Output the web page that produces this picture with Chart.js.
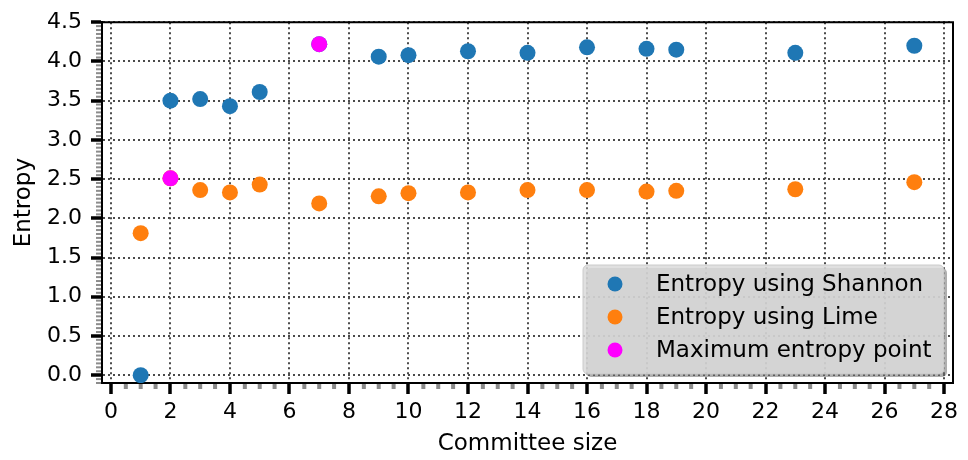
<!DOCTYPE html>
<html>
<head>
<meta charset="utf-8">
<script src="https://cdn.jsdelivr.net/npm/chart.js@4.4.1/dist/chart.umd.min.js"></script>
<style>
  html, body { margin: 0; padding: 0; background: #ffffff; overflow: hidden; }
  #wrap { width: 968px; height: 460px; }
</style>
</head>
<body>
<div id="wrap"><canvas id="c" width="968" height="460"></canvas></div>
<script>
// Committee sizes evaluated
const committeeSizes = [1, 2, 3, 4, 5, 7, 9, 10, 12, 14, 16, 18, 19, 23, 27];
// Entropy of the committee votes (Shannon) and of the LIME explanations
const shannonEntropy = [0.00, 3.50, 3.52, 3.43, 3.61, 4.22, 4.06, 4.08, 4.13, 4.11, 4.18, 4.16, 4.15, 4.11, 4.20];
const limeEntropy = [1.81, 2.51, 2.36, 2.33, 2.43, 2.19, 2.28, 2.32, 2.33, 2.36, 2.36, 2.34, 2.35, 2.37, 2.46];
// Highest entropy of each series
const maxPointSizes = [2, 7];
const maxPointEntropy = [2.51, 4.22];
// Axis ticks
const xTicks = [0, 2, 4, 6, 8, 10, 12, 14, 16, 18, 20, 22, 24, 26, 28];
const yTicks = [0.0, 0.5, 1.0, 1.5, 2.0, 2.5, 3.0, 3.5, 4.0, 4.5];
const legendLabels = ['Entropy using Shannon', 'Entropy using Lime', 'Maximum entropy point'];

const COLORS = ['#1f77b4', '#ff7f0e', '#ff00ff'];
const FONT = 'DejaVu Sans';

function toPoints(xs, ys) { return xs.map((x, i) => ({ x: x, y: ys[i] })); }

// Minor ticks, top/right frame and the boxed legend
const decorations = {
  id: 'decorations',
  afterDraw(chart) {
    const { ctx, chartArea: a, scales: { x, y } } = chart;
    ctx.save();
    // minor ticks: every 0.5 on x, every 0.05 on y
    ctx.fillStyle = '#8c8c8c';
    for (let k = Math.ceil(x.min * 2); k <= Math.floor(x.max * 2); k++) {
      if (k % 4 === 0) continue;
      const px = x.getPixelForValue(k / 2);
      ctx.fillRect(px - 2, a.bottom + 1, 4, 5);
    }
    for (let k = Math.ceil(y.min * 20); k <= Math.floor(y.max * 20 + 1e-9); k++) {
      if (k % 10 === 0) continue;
      const py = y.getPixelForValue(k / 20);
      ctx.fillRect(a.left - 6, py - 1, 5, 2);
    }
    // top and right spines
    ctx.strokeStyle = '#000';
    ctx.lineWidth = 2;
    ctx.beginPath();
    ctx.moveTo(a.left, a.top);
    ctx.lineTo(a.right, a.top);
    ctx.lineTo(a.right, a.bottom);
    ctx.stroke();

    // legend box
    const bx = 583, by = 265, bw = 361, bh = 109, rad = 5;
    const rr = (x0, y0, w, h) => {
      ctx.beginPath();
      ctx.moveTo(x0 + rad, y0);
      ctx.arcTo(x0 + w, y0, x0 + w, y0 + h, rad);
      ctx.arcTo(x0 + w, y0 + h, x0, y0 + h, rad);
      ctx.arcTo(x0, y0 + h, x0, y0, rad);
      ctx.arcTo(x0, y0, x0 + w, y0, rad);
      ctx.closePath();
    };
    rr(bx + 3, by + 3, bw, bh);
    ctx.fillStyle = 'rgba(110,110,110,0.55)';
    ctx.fill();
    rr(bx, by, bw, bh);
    ctx.fillStyle = 'rgba(218,218,218,0.85)';
    ctx.fill();
    ctx.strokeStyle = 'rgba(200,200,200,0.9)';
    ctx.lineWidth = 1;
    ctx.stroke();
    const rows = [284, 317, 350];
    ctx.font = '23px "' + FONT + '"';
    ctx.textBaseline = 'middle';
    ctx.textAlign = 'left';
    legendLabels.forEach((t, i) => {
      ctx.fillStyle = COLORS[i];
      ctx.beginPath();
      ctx.arc(615, rows[i], 7.5, 0, Math.PI * 2);
      ctx.fill();
      ctx.fillStyle = '#000';
      ctx.fillText(t, 656, rows[i] + 1);
    });
    ctx.restore();
  }
};

new Chart(document.getElementById('c'), {
  type: 'scatter',
  data: {
    datasets: [
      { label: legendLabels[0], data: toPoints(committeeSizes, shannonEntropy), backgroundColor: COLORS[0], borderWidth: 0, pointRadius: 8, pointHoverRadius: 8, order: 3 },
      { label: legendLabels[1], data: toPoints(committeeSizes, limeEntropy), backgroundColor: COLORS[1], borderWidth: 0, pointRadius: 8, pointHoverRadius: 8, order: 2 },
      { label: legendLabels[2], data: toPoints(maxPointSizes, maxPointEntropy), backgroundColor: COLORS[2], borderWidth: 0, pointRadius: 8, pointHoverRadius: 8, order: 1 }
    ]
  },
  options: {
    responsive: false,
    animation: false,
    devicePixelRatio: 1,
    layout: { padding: { top: 19, right: 15, left: 0, bottom: 0 } },
    plugins: { legend: { display: false }, tooltip: { enabled: false } },
    scales: {
      x: {
        type: 'linear',
        min: -0.3,
        max: 28.3,
        afterBuildTicks: s => { s.ticks = xTicks.map(v => ({ value: v })); },
        afterFit: s => { s.height = 77; },
        ticks: { color: '#000', font: { family: FONT, size: 22 }, padding: 5, maxRotation: 0, autoSkip: false, callback: v => String(v) },
        grid: { color: '#4a4a4a', lineWidth: 2, tickColor: '#000', tickWidth: 3.5, tickLength: 11 },
        border: { display: true, color: '#000', width: 2, dash: [2, 3] },
        title: { display: true, text: 'Committee size', color: '#000', font: { family: FONT, size: 23 }, padding: { top: 0, bottom: 2 } }
      },
      y: {
        type: 'linear',
        min: -0.1,
        max: 4.5,
        afterBuildTicks: s => { s.ticks = yTicks.map(v => ({ value: v })); },
        afterFit: s => { s.width = 102; },
        ticks: { color: '#000', font: { family: FONT, size: 22 }, padding: 9, autoSkip: false, callback: v => Number(v).toFixed(1) },
        grid: { color: '#4a4a4a', lineWidth: 2, tickColor: '#000', tickWidth: 3.5, tickLength: 11 },
        border: { display: true, color: '#000', width: 2, dash: [2, 3] },
        title: { display: true, text: 'Entropy', color: '#000', font: { family: FONT, size: 23 }, padding: { top: 10, bottom: 0 } }
      }
    }
  },
  plugins: [decorations]
});
</script>
</body>
</html>
